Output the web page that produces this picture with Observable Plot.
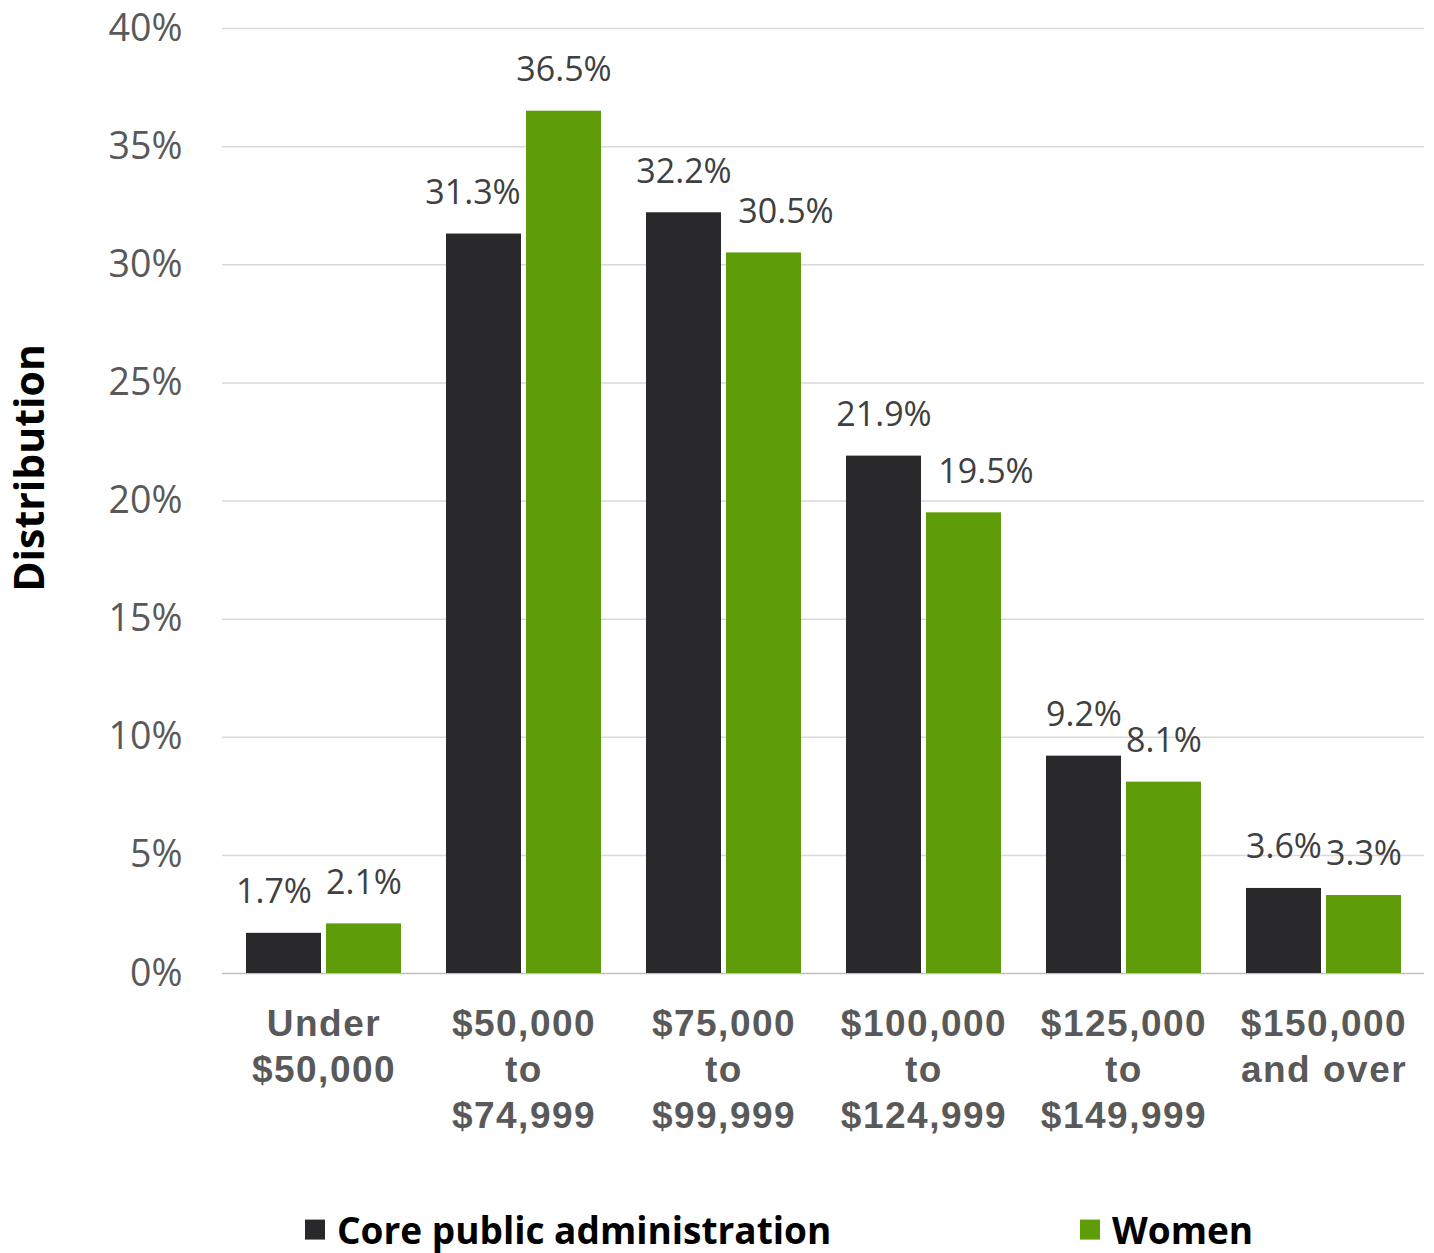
<!DOCTYPE html>
<html>
<head>
<meta charset="utf-8">
<script src="https://cdn.jsdelivr.net/npm/d3@7"></script>
<script src="https://cdn.jsdelivr.net/npm/@observablehq/plot@0.6"></script>
<style>
  html, body { margin: 0; padding: 0; background: #fff; }
  #wrap { width: 1434px; position: relative; }
  #legend { position: relative; width: 1434px; height: 63px; font-family: "Open Sans", sans-serif; font-weight: bold; font-size: 37px; line-height: 1.05; color: #000; }
  .item { position: absolute; top: 40px; transform: translateY(-50%); display: flex; align-items: center; white-space: nowrap; }
  .sw { width: 20px; height: 20px; margin-right: 12px; display: inline-block; }
  g[aria-label="x-axis tick label"] { letter-spacing: 1.5px; }
</style>
</head>
<body>
<div id="wrap"></div>
<script>
const categories = ["Under\n$50,000", "$50,000\nto\n$74,999", "$75,000\nto\n$99,999", "$100,000\nto\n$124,999", "$125,000\nto\n$149,999", "$150,000\nand over"];
const seriesNames = ["Core public administration", "Women"];
const corePublicAdmin = [1.7, 31.3, 32.2, 21.9, 9.2, 3.6];
const women = [2.1, 36.5, 30.5, 19.5, 8.1, 3.3];
const yTicks = [0, 5, 10, 15, 20, 25, 30, 35, 40];
const colors = ["#29292b", "#5e9c0a"];

const rows = [];
categories.forEach((c, i) => {
  rows.push({category: c, series: seriesNames[0], value: corePublicAdmin[i], neighbor: women[i], side: -1});
  rows.push({category: c, series: seriesNames[1], value: women[i], neighbor: corePublicAdmin[i], side: 1});
});

// label nudge rule: labels pushed away from a taller neighbouring bar
function nudge(d) {
  if (d.neighbor <= d.value) return 0;
  const label = d.value.toFixed(1) + "%";
  if (label.length >= 5) return d.side * (d.neighbor - d.value < 3 ? 22 : 11);
  return d.value < 3 ? d.side * 10 : 0;
}

const W = 1434, H = 1190, mTop = 28, mBottom = 217, mLeft = 222, mRight = 10;
const half = 40;

const barMarks = [];
const textMarks = [];
[-1, 1].forEach(side => {
  const sub = rows.filter(d => d.side === side);
  barMarks.push(Plot.barY(sub, {x: "category", y: "value", fill: d => d.series, dx: side * half}));
  const groups = d3.group(sub, nudge);
  for (const [n, g] of groups) {
    textMarks.push(Plot.text(g, {
      x: "category", y: "value", text: d => d.value.toFixed(1) + "%",
      dx: side * half + n, dy: -41, fontSize: 34, fill: "#404040", fontFamily: "Open Sans"
    }));
  }
});

const chart = Plot.plot({
  width: W, height: H,
  marginTop: mTop, marginBottom: mBottom, marginLeft: mLeft, marginRight: mRight,
  style: {fontFamily: "Open Sans", background: "#fff", overflow: "visible"},
  x: {domain: categories, paddingInner: 0.625, paddingOuter: 0.3125, axis: null},
  y: {domain: [0, 40], axis: null},
  color: {domain: seriesNames, range: colors},
  marks: [
    Plot.ruleY(yTicks.filter(v => v > 0), {stroke: "#d9d9d9", strokeWidth: 1.5}),
    Plot.ruleY([0], {stroke: "#bfbfbf", strokeWidth: 1.5}),
    ...barMarks,
    ...textMarks,
    Plot.axisY(yTicks, {tickSize: 0, tickPadding: 40, tickFormat: d => d + "%", fontSize: 37.5, fill: "#595959", label: null, fontFamily: "Open Sans"}),
    Plot.axisX({tickSize: 0, tickPadding: 30, fontSize: 37, fontWeight: "bold", fill: "#595959", lineHeight: 1.243, fontFamily: "Liberation Sans", label: null}),
    Plot.text(["Distribution"], {frameAnchor: "left", textAnchor: "middle", rotate: -90, dx: -192, dy: -33, fontSize: 41, fontWeight: "bold", fill: "#000", fontFamily: "Open Sans"})
  ]
});

const wrap = document.getElementById("wrap");
wrap.appendChild(chart);

const legend = document.createElement("div");
legend.id = "legend";
const lefts = [305, 1080];
seriesNames.forEach((s, i) => {
  const it = document.createElement("div");
  it.className = "item";
  it.style.left = lefts[i] + "px";
  const sw = document.createElement("span");
  sw.className = "sw";
  sw.style.background = colors[i];
  const t = document.createElement("span");
  t.textContent = s;
  it.appendChild(sw); it.appendChild(t);
  legend.appendChild(it);
});
wrap.appendChild(legend);
</script>
</body>
</html>
